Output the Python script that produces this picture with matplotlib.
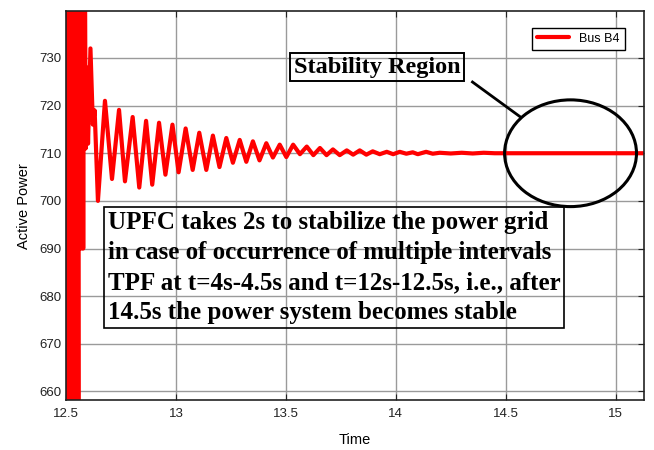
import numpy as np
import pandas as pd
from matplotlib import pyplot as plt
from matplotlib.patches import Ellipse

# fault burst right after clearing (values beyond the axis are clipped)
burst_t = [12.500, 12.504, 12.508, 12.512, 12.516, 12.520, 12.524, 12.528, 12.532, 12.536,
           12.540, 12.544, 12.548, 12.552, 12.556, 12.558, 12.562, 12.566, 12.570, 12.574,
           12.578, 12.582, 12.586, 12.589, 12.594, 12.600, 12.611, 12.622, 12.630, 12.645]
burst_p = [650, 750, 650, 750, 650, 750, 650, 750, 650, 750,
           650, 750, 650, 750, 650, 750, 690, 750, 690, 750,
           690, 750, 750, 711, 728, 712, 732, 716, 719, 700]

# damped swing: alternating peaks and troughs
swing_t = [12.677, 12.709, 12.741, 12.768, 12.803, 12.833, 12.864, 12.892, 12.923, 12.952,
           12.984, 13.012, 13.044, 13.076, 13.106, 13.138, 13.168, 13.198, 13.229, 13.259,
           13.290, 13.320, 13.350, 13.380, 13.411, 13.441, 13.472, 13.502, 13.533, 13.564,
           13.595, 13.625, 13.655, 13.685, 13.714, 13.745, 13.777, 13.806, 13.836, 13.866,
           13.895, 13.927, 13.959, 13.988, 14.018, 14.048, 14.077, 14.100, 14.138, 14.168,
           14.200, 14.250, 14.300, 14.350, 14.400, 14.450, 15.130]
swing_p = [721.0, 704.6, 719.1, 704.1, 717.6, 702.8, 716.8, 703.4, 716.4, 705.5,
           716.0, 706.0, 715.2, 706.5, 714.3, 706.5, 713.7, 707.1, 713.2, 708.0,
           712.8, 708.2, 712.5, 708.5, 712.1, 709.1, 711.8, 709.2, 711.8, 709.8,
           711.4, 709.6, 711.1, 709.6, 710.8, 709.6, 710.6, 709.7, 710.6, 709.7,
           710.4, 709.8, 710.3, 709.8, 710.3, 709.9, 710.2, 709.8, 710.3, 709.9,
           710.1, 709.95, 710.1, 709.95, 710.1, 710.0, 710.0]

df = pd.DataFrame({"Time": burst_t + swing_t, "Power": burst_p + swing_p})

xticks = [12.5, 13, 13.5, 14, 14.5, 15]
yticks = [660, 670, 680, 690, 700, 710, 720, 730]

plt.rcParams["font.family"] = ["Liberation Sans", "DejaVu Sans"]
fig = plt.figure(figsize=(6.54, 4.5), dpi=100)
ax = fig.add_axes([0.101, 0.111, 0.884, 0.864])

ax.plot(df["Time"], df["Power"], color="#ff0000", lw=3, label="Bus B4",
        solid_joinstyle="round", solid_capstyle="round")
ax.set_xlim(12.5, 15.13)
ax.set_ylim(658.2, 739.8)
ax.set_xticks(xticks)
ax.set_xticklabels(["12.5", "13", "13.5", "14", "14.5", "15"])
ax.set_yticks(yticks)
ax.grid(True, color="#9a9a9a", lw=1)
ax.tick_params(direction="in", length=4, labelsize=9.5, colors="#222222", top=True, right=True)
ax.tick_params(axis="x", pad=6)
for s in ax.spines.values():
    s.set_color("#222222")
    s.set_linewidth(1.2)
ax.set_xlabel("Time", fontsize=10.5, labelpad=9)
ax.set_ylabel("Active Power", fontsize=10.5, labelpad=6)

leg = ax.legend(loc="upper right", bbox_to_anchor=(0.966, 0.958), fontsize=9,
                fancybox=False, edgecolor="black", framealpha=1, handlelength=2.6,
                borderaxespad=0)
leg.get_frame().set_linewidth(1)

# stability region marker
ax.add_patch(Ellipse((14.795, 710), 0.60, 22.4, fill=False, ec="black", lw=2.2, zorder=5))
ax.plot([0.703, 0.786], [0.818, 0.728], transform=ax.transAxes, color="black", lw=2, zorder=5)
ax.text(0.538, 0.856, "Stability Region", transform=ax.transAxes, ha="center", va="center",
        family=["Liberation Serif"], weight="bold", fontsize=17.5, zorder=6,
        bbox=dict(boxstyle="square,pad=0.15", fc="none", ec="black", lw=1.4))

note = ("UPFC takes 2s to stabilize the power grid\n"
        "in case of occurrence of multiple intervals\n"
        "TPF at t=4s-4.5s and t=12s-12.5s, i.e., after\n"
        "14.5s the power system becomes stable")
ax.text(0.072, 0.487, note, transform=ax.transAxes, ha="left", va="top",
        family=["Liberation Serif"], weight="bold", fontsize=18, linespacing=1.4, zorder=6,
        bbox=dict(boxstyle="square,pad=0.15", fc="none", ec="black", lw=1.2))

plt.savefig("out.png", dpi=100)
